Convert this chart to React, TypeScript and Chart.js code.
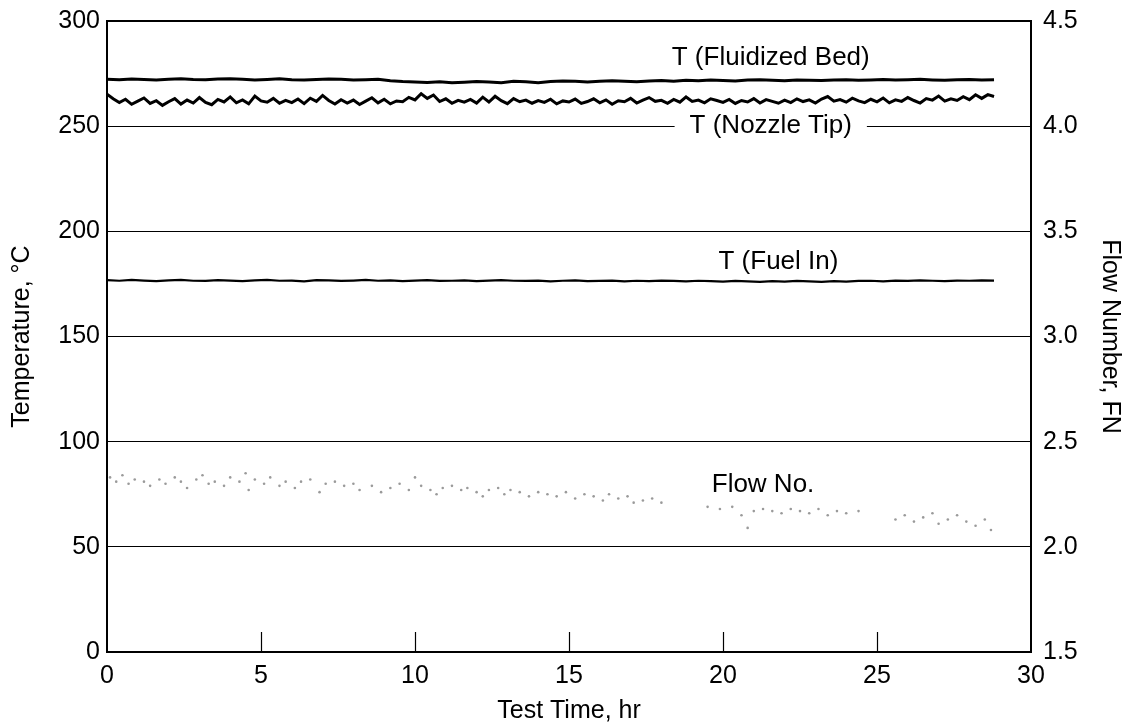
import { useEffect, useRef } from "react";
import { Chart, registerables } from "chart.js";

Chart.register(...registerables);

const FONT = '"Liberation Sans", Arial, Helvetica, sans-serif';

// Sampling times (hr) for the smoother temperature traces
const hours = [
  0, 0.4, 0.8, 1.2, 1.6, 2, 2.4, 2.8, 3.2, 3.6, 4,
  4.4, 4.8, 5.2, 5.6, 6, 6.4, 6.8, 7.2, 7.6, 8, 8.4, 8.8,
  9.2, 9.6, 10, 10.4, 10.8, 11.2, 11.6, 12, 12.4, 12.8, 13.2, 13.6,
  14, 14.4, 14.8, 15.2, 15.6, 16, 16.4, 16.8, 17.2, 17.6, 18, 18.4,
  18.8, 19.2, 19.6, 20, 20.4, 20.8, 21.2, 21.6, 22, 22.4, 22.8, 23.2,
  23.6, 24, 24.4, 24.8, 25.2, 25.6, 26, 26.4, 26.8, 27.2, 27.6, 28, 28.4, 28.8,
];

// T (Fluidized Bed), °C
const fluidizedBed = [
  272.3, 272.1, 272.4, 272.2, 272.0, 272.3, 272.5, 272.2, 272.1, 272.4, 272.6,
  272.3, 272.0, 272.2, 272.5, 272.1, 271.9, 272.2, 272.4, 272.3, 272.0, 272.1, 272.3,
  271.6, 271.2, 271.0, 270.8, 271.1, 270.6, 270.9, 271.2, 271.0, 270.7, 271.3, 271.1,
  270.6, 271.2, 271.5, 271.3, 271.0, 271.4, 271.6, 271.3, 271.1, 271.5, 271.7, 271.4,
  271.8, 271.6, 272.0, 271.7, 271.5, 271.9, 272.1, 271.8, 271.6, 272.0, 271.8, 271.7,
  271.9, 272.1, 271.8, 272.0, 272.2, 271.9, 272.1, 272.3, 272.0, 271.8, 272.1, 272.2, 272.0, 272.1,
];

// Sampling times (hr) for the noisy nozzle-tip trace
const nozzleHours = [
  0, 0.2, 0.4, 0.6, 0.8, 1, 1.2, 1.4, 1.6, 1.8,
  2, 2.2, 2.4, 2.6, 2.8, 3, 3.2, 3.4, 3.6, 3.8,
  4, 4.2, 4.4, 4.6, 4.8, 5, 5.2, 5.4, 5.6, 5.8,
  6, 6.2, 6.4, 6.6, 6.8, 7, 7.2, 7.4, 7.6, 7.8,
  8, 8.2, 8.4, 8.6, 8.8, 9, 9.2, 9.4, 9.6, 9.8,
  10, 10.2, 10.4, 10.6, 10.8, 11, 11.2, 11.4, 11.6, 11.8,
  12, 12.2, 12.4, 12.6, 12.8, 13, 13.2, 13.4, 13.6, 13.8,
  14, 14.2, 14.4, 14.6, 14.8, 15, 15.2, 15.4, 15.6, 15.8,
  16, 16.2, 16.4, 16.6, 16.8, 17, 17.2, 17.4, 17.6, 17.8,
  18, 18.2, 18.4, 18.6, 18.8, 19, 19.2, 19.4, 19.6, 19.8,
  20, 20.2, 20.4, 20.6, 20.8, 21, 21.2, 21.4, 21.6, 21.8,
  22, 22.2, 22.4, 22.6, 22.8, 23, 23.2, 23.4, 23.6, 23.8,
  24, 24.2, 24.4, 24.6, 24.8, 25, 25.2, 25.4, 25.6, 25.8,
  26, 26.2, 26.4, 26.6, 26.8, 27, 27.2, 27.4, 27.6, 27.8,
  28, 28.2, 28.4, 28.6, 28.8,
];

// T (Nozzle Tip), °C
const nozzleTip = [
  265.2, 263.0, 261.2, 262.8, 260.4, 261.9, 263.4, 260.8, 262.1, 259.9,
  261.6, 263.1, 260.5, 262.4, 261.0, 263.6, 261.3, 260.2, 262.7, 261.5,
  263.9, 261.1, 262.5, 260.6, 264.3, 262.0, 261.4, 263.2, 260.9, 262.3,
  261.2, 262.9, 260.7, 263.3, 261.8, 264.6, 262.2, 260.5, 262.6, 261.0,
  262.4, 260.3, 261.9, 263.5, 261.1, 262.8, 260.6, 262.0, 261.6, 263.7,
  262.5, 265.4, 263.2, 264.8, 261.7, 263.0, 260.9, 262.3, 261.4, 262.7,
  261.0, 263.8, 261.5, 264.2, 262.1, 260.7, 263.1, 261.6, 262.4, 260.9,
  262.2, 261.3, 262.8, 260.6, 262.0, 261.5, 262.9, 260.8, 261.7, 263.0,
  261.1, 262.5, 260.4, 262.1, 261.6, 263.2, 261.0, 262.4, 263.6, 261.8,
  262.3, 260.9, 262.7, 261.4, 263.9, 261.8, 262.4, 261.1, 263.0, 262.2,
  261.3, 262.7, 260.8, 262.2, 261.5, 263.1, 261.0, 262.6, 261.8, 260.9,
  262.4, 261.2, 263.0, 261.7, 262.5, 261.0, 262.9, 264.1, 261.9, 262.6,
  261.4, 263.3, 262.0, 261.2, 262.8, 261.6, 263.4, 261.1, 262.5, 261.8,
  263.6, 262.2, 261.0, 263.1, 262.4, 264.3, 261.9, 263.0, 262.2, 264.0,
  262.6, 264.9, 263.2, 265.0, 264.1,
];

// T (Fuel In), °C
const fuelIn = [
  176.8, 176.5, 176.9, 176.6, 176.3, 176.7, 176.9, 176.5, 176.4, 176.8, 176.6,
  176.3, 176.7, 176.9, 176.5, 176.6, 176.2, 176.8, 176.7, 176.4, 176.6, 176.9, 176.5,
  176.7, 176.3, 176.6, 176.8, 176.4, 176.5, 176.7, 176.3, 176.6, 176.8, 176.5, 176.4,
  176.6, 176.2, 176.5, 176.7, 176.3, 176.4, 176.6, 176.2, 176.5, 176.3, 176.6, 176.4,
  176.2, 176.5, 176.3, 176.1, 176.4, 176.2, 176.0, 176.3, 176.1, 176.4, 176.2, 176.0,
  176.3, 176.1, 176.4, 176.5, 176.2, 176.6, 176.4, 176.7, 176.5, 176.3, 176.6, 176.5, 176.7, 176.6,
];

// Flow Number (FN) scatter
const flowHours = [
  0.1, 0.3, 0.5, 0.7, 0.9, 1.2, 1.4, 1.7, 1.9, 2.2, 2.4, 2.6, 2.9, 3.1, 3.3, 3.5, 3.8, 4.0,
  4.3, 4.5, 4.6, 4.8, 5.1, 5.3, 5.6, 5.8, 6.1, 6.3, 6.6, 6.9, 7.1, 7.4, 7.7, 8.0, 8.2, 8.6,
  8.9, 9.2, 9.5, 9.8, 10.0, 10.2, 10.5, 10.7, 10.9, 11.2, 11.5, 11.7, 12.0, 12.2, 12.4, 12.7,
  12.9, 13.1, 13.4, 13.7, 14.0, 14.3, 14.6, 14.9, 15.2, 15.5, 15.8, 16.1, 16.3, 16.6, 16.9,
  17.1, 17.4, 17.7, 18.0, 19.5, 19.9, 20.3, 20.6, 20.8, 21.0, 21.3, 21.6, 21.9, 22.2, 22.5,
  22.8, 23.1, 23.4, 23.7, 24.0, 24.4, 25.6, 25.9, 26.2, 26.5, 26.8, 27.0, 27.3, 27.6, 27.9,
  28.2, 28.5, 28.7,
];
const flowNumber = [
  2.33, 2.31, 2.34, 2.30, 2.32, 2.31, 2.29, 2.32, 2.30, 2.33, 2.31, 2.28, 2.32, 2.34, 2.30, 2.31, 2.29, 2.33,
  2.31, 2.35, 2.27, 2.32, 2.30, 2.33, 2.29, 2.31, 2.28, 2.31, 2.32, 2.26, 2.30, 2.31, 2.29, 2.30, 2.27, 2.29,
  2.26, 2.28, 2.30, 2.27, 2.33, 2.29, 2.27, 2.25, 2.28, 2.29, 2.27, 2.28, 2.26, 2.24, 2.27, 2.28,
  2.25, 2.27, 2.26, 2.24, 2.26, 2.25, 2.24, 2.26, 2.23, 2.25, 2.24, 2.22, 2.25, 2.23, 2.24,
  2.21, 2.22, 2.23, 2.21, 2.19, 2.18, 2.19, 2.15, 2.09, 2.17, 2.18, 2.17, 2.16, 2.18, 2.17,
  2.16, 2.18, 2.15, 2.17, 2.16, 2.17, 2.13, 2.15, 2.12, 2.14, 2.16, 2.11, 2.13, 2.15, 2.12,
  2.10, 2.13, 2.08,
];

// Inner tick marks on the time axis
const xTickValues = [5, 10, 15, 20, 25];

// In-plot series labels (placed in data coordinates: hr, °C)
const labelTexts = ["T (Fluidized Bed)", "T (Nozzle Tip)", "T (Fuel In)", "Flow No."];
const labelHours = [21.55, 21.55, 21.8, 21.3];
const labelTemps = [282.3, 250, 185.5, 79.5];
const labelMasks = [false, true, false, false];

export default function App() {
  const ref = useRef<HTMLCanvasElement>(null);

  useEffect(() => {
    const canvas = ref.current;
    if (!canvas) return;
    const pts = (xs: number[], ys: number[]) => xs.map((x, i) => ({ x, y: ys[i] }));

    const decor = {
      id: "decor",
      beforeDatasetsDraw(chart: any) {
        const { ctx, chartArea: a, scales } = chart;
        ctx.save();
        ctx.strokeStyle = "#000";
        ctx.lineWidth = 1.2;
        xTickValues.forEach((v) => {
          const px = Math.round(scales.x.getPixelForValue(v)) + 0.5;
          ctx.beginPath();
          ctx.moveTo(px, a.bottom);
          ctx.lineTo(px, a.bottom - 20);
          ctx.stroke();
        });
        ctx.restore();
      },
      afterDatasetsDraw(chart: any) {
        const { ctx, chartArea: a, scales } = chart;
        ctx.save();
        ctx.strokeStyle = "#000";
        ctx.lineWidth = 2;
        ctx.strokeRect(a.left, a.top, a.right - a.left, a.bottom - a.top);
        ctx.font = `26px ${FONT}`;
        ctx.textAlign = "center";
        ctx.textBaseline = "middle";
        labelTexts.forEach((t, i) => {
          const px = scales.x.getPixelForValue(labelHours[i]);
          const py = scales.y.getPixelForValue(labelTemps[i]);
          if (labelMasks[i]) {
            const w = ctx.measureText(t).width;
            ctx.fillStyle = "#fff";
            ctx.fillRect(px - w / 2 - 15, py - 14, w + 30, 28);
          }
          ctx.fillStyle = "#000";
          ctx.fillText(t, px, py);
        });
        ctx.restore();
      },
    };

    const tickFont = { family: FONT, size: 25 };

    const chart = new Chart(canvas, {
      type: "line",
      data: {
        datasets: [
          {
            label: "T (Fluidized Bed)",
            data: pts(hours, fluidizedBed),
            borderColor: "#000",
            borderWidth: 3,
            pointRadius: 0,
            yAxisID: "y",
          },
          {
            label: "T (Nozzle Tip)",
            data: pts(nozzleHours, nozzleTip),
            borderColor: "#000",
            borderWidth: 3,
            pointRadius: 0,
            yAxisID: "y",
          },
          {
            label: "T (Fuel In)",
            data: pts(hours, fuelIn),
            borderColor: "#000",
            borderWidth: 2.2,
            pointRadius: 0,
            yAxisID: "y",
          },
          {
            label: "Flow No.",
            data: pts(flowHours, flowNumber),
            showLine: false,
            borderColor: "#9a9a9a",
            backgroundColor: "#9a9a9a",
            pointRadius: 1.3,
            pointBorderWidth: 0,
            yAxisID: "y2",
          },
        ],
      } as any,
      options: {
        animation: false,
        responsive: false,
        layout: { padding: { top: 21, left: 0, right: 0, bottom: 0 } },
        plugins: { legend: { display: false }, tooltip: { enabled: false } },
        scales: {
          x: {
            type: "linear",
            position: "bottom",
            min: 0,
            max: 30,
            ticks: { stepSize: 5, color: "#000", font: tickFont, padding: 9, maxRotation: 0 },
            grid: { display: false, drawTicks: false },
            border: { display: false },
            title: {
              display: true,
              text: "Test Time, hr",
              color: "#000",
              font: { family: FONT, size: 25, lineHeight: 1 },
              padding: { top: 0, bottom: 0 },
            },
            afterFit: (s: any) => {
              s.height = 72;
              s.paddingLeft = 0;
              s.paddingRight = 0;
            },
          },
          y: {
            position: "left",
            min: 0,
            max: 300,
            ticks: { stepSize: 50, color: "#000", font: tickFont, padding: 7 },
            grid: { color: "#000", lineWidth: 1, drawTicks: false },
            border: { display: false },
            title: {
              display: true,
              text: "Temperature, °C",
              color: "#000",
              font: { family: FONT, size: 25 },
              padding: { top: 7, bottom: 0 },
            },
            afterFit: (s: any) => {
              s.width = 107;
              s.paddingTop = 0;
              s.paddingBottom = 0;
            },
          },
          y2: {
            position: "right",
            min: 1.5,
            max: 4.5,
            ticks: {
              stepSize: 0.5,
              color: "#000",
              font: tickFont,
              padding: 12,
              callback: (v: any) => Number(v).toFixed(1),
            },
            grid: { drawOnChartArea: false, drawTicks: false },
            border: { display: false },
            title: {
              display: true,
              text: "Flow Number, FN",
              color: "#000",
              font: { family: FONT, size: 25 },
              padding: { top: 0, bottom: 0 },
            },
            afterFit: (s: any) => {
              s.width = 94;
              s.paddingTop = 0;
              s.paddingBottom = 0;
            },
          },
        },
      } as any,
      plugins: [decor],
    });

    return () => chart.destroy();
  }, []);

  return (
    <div style={{ position: "fixed", left: 0, top: 0, width: 1125, height: 724, background: "#fff" }}>
      <canvas ref={ref} width={1125} height={724} style={{ display: "block", width: 1125, height: 724 }} />
    </div>
  );
}
